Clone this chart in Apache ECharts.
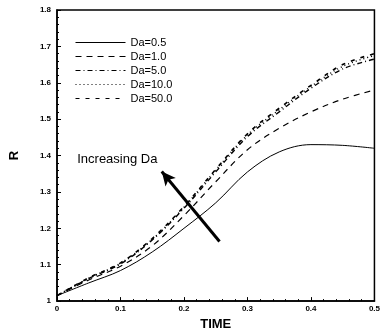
<!DOCTYPE html>
<html>
<head>
<meta charset="utf-8">
<script src="https://cdn.jsdelivr.net/npm/echarts@6/dist/echarts.min.js"></script>
<style>
  html, body { margin: 0; padding: 0; background: #fff; }
  #main { width: 383px; height: 336px; }
</style>
</head>
<body>
<div id="main"></div>
<script>
// time samples (x axis)
var times = [0, 0.05, 0.1, 0.15, 0.2, 0.25, 0.3, 0.35, 0.4, 0.45, 0.5];

// R values
var rDa05 = [1.015, 1.05, 1.084, 1.135, 1.2, 1.27, 1.355, 1.41, 1.43, 1.428, 1.42];
var rDa1 = [1.015, 1.058, 1.096, 1.152, 1.235, 1.328, 1.416, 1.475, 1.52, 1.555, 1.58];
var rDa5 = [1.015, 1.062, 1.102, 1.168, 1.255, 1.355, 1.452, 1.52, 1.585, 1.638, 1.665];
var rDa10 = [1.015, 1.063, 1.104, 1.17, 1.258, 1.36, 1.457, 1.526, 1.59, 1.645, 1.675];
var rDa50 = [1.015, 1.064, 1.105, 1.172, 1.26, 1.362, 1.46, 1.53, 1.593, 1.65, 1.68];

var seriesNames = ['Da=0.5', 'Da=1.0', 'Da=5.0', 'Da=10.0', 'Da=50.0'];

// arrow "Increasing Da" (data coords)
var arrowFrom = [0.256, 1.164];
var arrowTo = [0.165, 1.356];
var arrowText = [0.095, 1.39];

function pairs(ys) {
    return times.map(function (t, i) { return [t, ys[i]]; });
}

var chartDom = document.getElementById('main');
var myChart = echarts.init(chartDom);
var option;

var fontFam = '"Liberation Sans", Arial, sans-serif';

function lineSeries(name, ys, type, width) {
    return {
        name: name,
        type: 'line',
        data: pairs(ys),
        smooth: 0.35,
        symbol: 'none',
        showSymbol: false,
        animation: false,
        itemStyle: { color: '#000' },
        lineStyle: { color: '#000', width: width, type: type }
    };
}

option = {
    animation: false,
    grid: {
        left: 50, right: 5, top: 10, bottom: 29,
        show: true, borderColor: '#000', borderWidth: 1.5
    },
    legend: {
        data: seriesNames,
        orient: 'vertical',
        left: 70,
        top: 32,
        itemWidth: 50,
        itemHeight: 10,
        itemGap: 3,
        itemStyle: { opacity: 0 },
        lineStyle: { width: 1 },
        textStyle: { fontFamily: fontFam, fontSize: 11, color: '#000' }
    },
    xAxis: {
        type: 'value',
        min: 0, max: 0.5, interval: 0.1,
        name: 'TIME',
        nameLocation: 'middle',
        nameGap: 16,
        nameTextStyle: { fontFamily: fontFam, fontSize: 13, fontWeight: 'bold', color: '#000' },
        axisLine: { lineStyle: { color: '#000', width: 1.5 } },
        axisTick: { inside: true, length: 4, lineStyle: { color: '#000' } },
        minorTick: { show: true, splitNumber: 5, length: 2, lineStyle: { color: '#000' } },
        axisLabel: { fontFamily: fontFam, fontSize: 8, fontWeight: 'bold', color: '#000', margin: 4 },
        splitLine: { show: false }
    },
    yAxis: {
        type: 'value',
        min: 1, max: 1.8, interval: 0.1,
        name: 'R',
        nameLocation: 'middle',
        nameGap: 36,
        nameTextStyle: { fontFamily: fontFam, fontSize: 13, fontWeight: 'bold', color: '#000' },
        axisLine: { lineStyle: { color: '#000', width: 1.5 } },
        axisTick: { inside: true, length: 4, lineStyle: { color: '#000' } },
        minorTick: { show: true, splitNumber: 5, length: 2, lineStyle: { color: '#000' } },
        axisLabel: { fontFamily: fontFam, fontSize: 8, fontWeight: 'bold', color: '#000', margin: 6 },
        splitLine: { show: false }
    },
    series: [
        lineSeries(seriesNames[0], rDa05, 'solid', 1),
        lineSeries(seriesNames[1], rDa1, [6, 5], 1.2),
        lineSeries(seriesNames[2], rDa5, [5, 3, 1, 3], 1.4),
        lineSeries(seriesNames[3], rDa10, [1, 3], 1.4),
        lineSeries(seriesNames[4], rDa50, [4, 6], 1.6)
    ]
};

// arrow and its label ride on the first series
option.series[0].markLine = {
    silent: true,
    animation: false,
    symbol: ['none', 'arrow'],
    symbolSize: [10, 14],
    label: { show: false },
    lineStyle: { color: '#000', width: 3, type: 'solid' },
    data: [[{ coord: arrowFrom }, { coord: arrowTo }]]
};
option.series[0].markPoint = {
    silent: true,
    animation: false,
    symbolSize: 0,
    label: {
        show: true,
        position: 'inside',
        formatter: 'Increasing Da',
        fontFamily: fontFam,
        fontSize: 13,
        color: '#000'
    },
    data: [{ coord: arrowText }]
};

option && myChart.setOption(option);
</script>
</body>
</html>
